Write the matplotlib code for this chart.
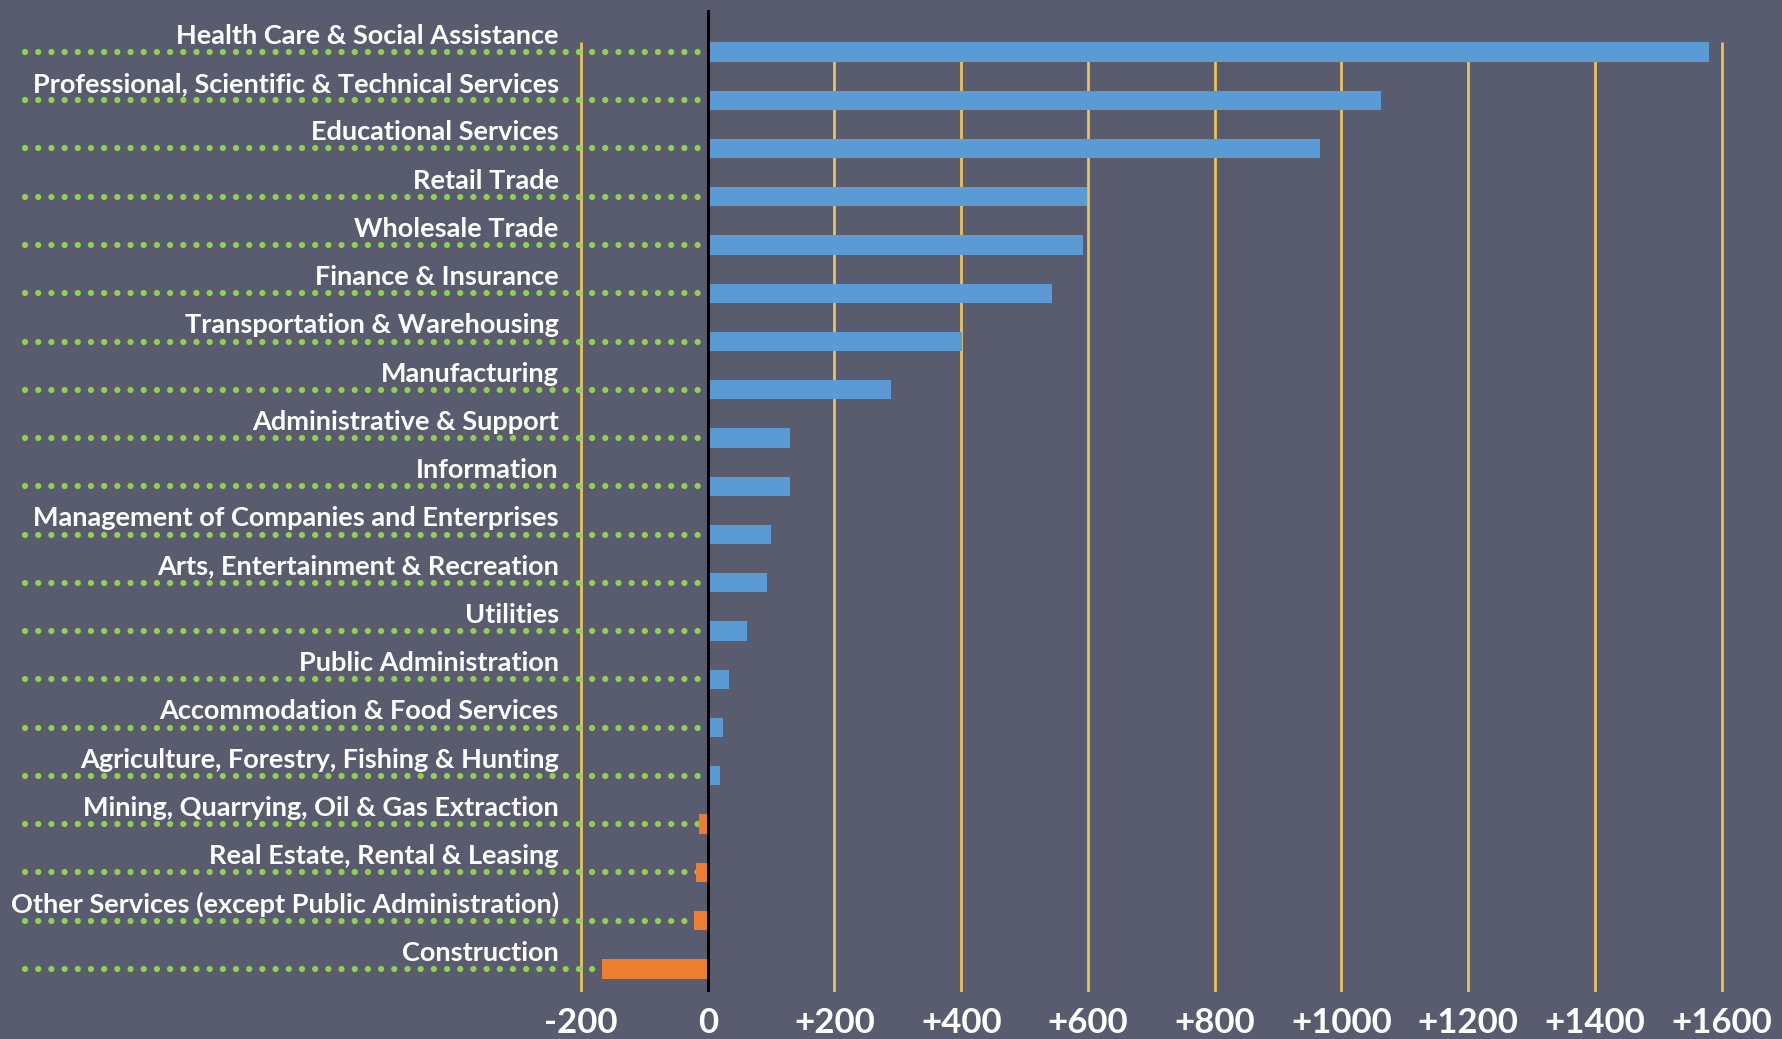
import numpy as np
import matplotlib
matplotlib.use("Agg")
import matplotlib.pyplot as plt

# industries, top to bottom, and change in jobs
industries = [
    "Health Care & Social Assistance",
    "Professional, Scientific & Technical Services",
    "Educational Services",
    "Retail Trade",
    "Wholesale Trade",
    "Finance & Insurance",
    "Transportation & Warehousing",
    "Manufacturing",
    "Administrative & Support",
    "Information",
    "Management of Companies and Enterprises",
    "Arts, Entertainment & Recreation",
    "Utilities",
    "Public Administration",
    "Accommodation & Food Services",
    "Agriculture, Forestry, Fishing & Hunting",
    "Mining, Quarrying, Oil & Gas Extraction",
    "Real Estate, Rental & Leasing",
    "Other Services (except Public Administration)",
    "Construction",
]
change = [1580, 1062, 966, 599, 593, 543, 402, 289, 130, 130,
          100, 94, 62, 34, 24, 19, -14, -18, -22, -167]
ticks = [-200, 0, 200, 400, 600, 800, 1000, 1200, 1400, 1600]
tick_labels = ["-200", "0", "+200", "+400", "+600", "+800",
               "+1000", "+1200", "+1400", "+1600"]

bg = "#585c6e"
blue = "#5b9bd5"
orange = "#ed7d31"
gold = "#ebc35c"
green = "#92d050"

plt.rcParams['font.family'] = ['Lato', 'DejaVu Sans']

fig = plt.figure(figsize=(17.83, 10.39), dpi=100, facecolor=bg)
ax = fig.add_axes([0, 0.0452, 1, 0.9452])
ax.set_facecolor(bg)

y = np.arange(len(industries))
colors = [blue if v >= 0 else orange for v in change]
bar_h = 0.4

ax.set_xlim(-1117, 1697)
ax.set_ylim(19.48, -0.87)

# gold gridlines, behind the bars
ax.vlines(ticks, 19.48, -bar_h / 2, colors=gold, linewidth=2.0, zorder=1)

# green dotted leaders from the labels to the zero line
ax.hlines(y, -1078, 0, colors=green, linewidth=4.5,
          linestyles=[(0, (0.01, 2.1))], capstyle='round', zorder=2)

ax.barh(y, change, height=bar_h, color=colors, zorder=3)
ax.axvline(0, color="black", linewidth=2.2, zorder=4)

for i, name in enumerate(industries):
    ax.text(-235, i - 0.17, name, ha='right', va='baseline',
            color='white', fontsize=19.5, fontweight='bold')

ax.set_xticks(ticks, tick_labels)
ax.tick_params(axis='x', length=0, pad=11, labelsize=25, labelcolor='white')
for lab in ax.get_xticklabels():
    lab.set_fontweight('bold')
ax.set_yticks([])
for s in ax.spines.values():
    s.set_visible(False)

fig.savefig("out.png", dpi=100, facecolor=bg)
